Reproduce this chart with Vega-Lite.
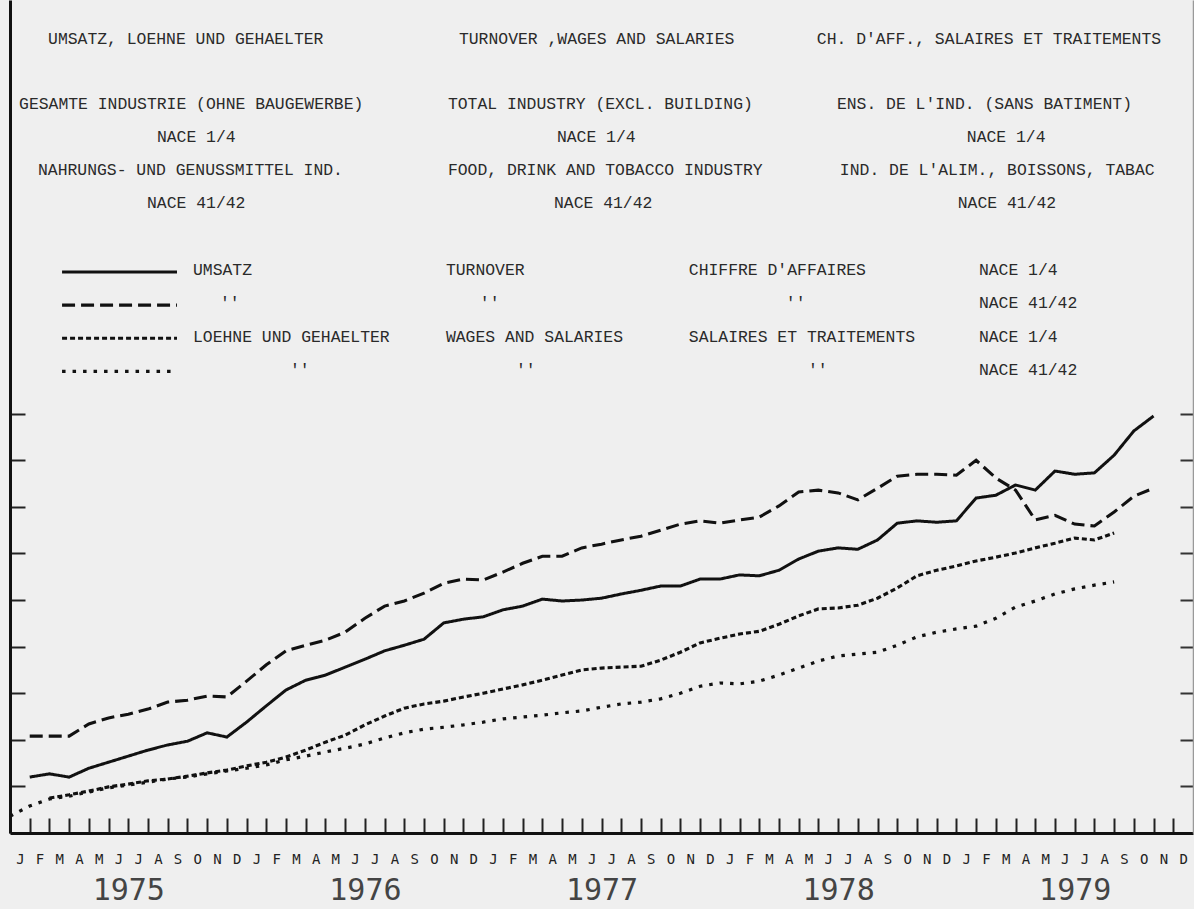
{
  "$schema": "https://vega.github.io/schema/vega-lite/v6.json",
  "width": 1183,
  "height": 833,
  "autosize": {"type": "none"},
  "padding": {"left": 10, "top": 0, "right": 1, "bottom": 76},
  "background": "#efefef",
  "config": {"view": {"stroke": null}, "axis": {"grid": false}},
  "datasets": {
    "series": [
      {"s":"U14","t":1,"v":12.0},{"s":"U14","t":2,"v":12.7},{"s":"U14","t":3,"v":12.0},{"s":"U14","t":4,"v":13.9},{"s":"U14","t":5,"v":15.2},{"s":"U14","t":6,"v":16.5},{"s":"U14","t":7,"v":17.8},{"s":"U14","t":8,"v":18.9},{"s":"U14","t":9,"v":19.7},{"s":"U14","t":10,"v":21.5},{"s":"U14","t":11,"v":20.6},{"s":"U14","t":12,"v":23.8},{"s":"U14","t":13,"v":27.3},{"s":"U14","t":14,"v":30.7},{"s":"U14","t":15,"v":32.8},{"s":"U14","t":16,"v":33.9},{"s":"U14","t":17,"v":35.6},{"s":"U14","t":18,"v":37.3},{"s":"U14","t":19,"v":39.1},{"s":"U14","t":20,"v":40.3},{"s":"U14","t":21,"v":41.6},{"s":"U14","t":22,"v":45.1},{"s":"U14","t":23,"v":45.9},{"s":"U14","t":24,"v":46.4},{"s":"U14","t":25,"v":47.9},{"s":"U14","t":26,"v":48.7},{"s":"U14","t":27,"v":50.2},{"s":"U14","t":28,"v":49.8},{"s":"U14","t":29,"v":50.0},{"s":"U14","t":30,"v":50.4},{"s":"U14","t":31,"v":51.3},{"s":"U14","t":32,"v":52.1},{"s":"U14","t":33,"v":53.0},{"s":"U14","t":34,"v":53.0},{"s":"U14","t":35,"v":54.5},{"s":"U14","t":36,"v":54.5},{"s":"U14","t":37,"v":55.4},{"s":"U14","t":38,"v":55.2},{"s":"U14","t":39,"v":56.4},{"s":"U14","t":40,"v":58.8},{"s":"U14","t":41,"v":60.5},{"s":"U14","t":42,"v":61.2},{"s":"U14","t":43,"v":60.9},{"s":"U14","t":44,"v":62.9},{"s":"U14","t":45,"v":66.5},{"s":"U14","t":46,"v":67.0},{"s":"U14","t":47,"v":66.7},{"s":"U14","t":48,"v":67.0},{"s":"U14","t":49,"v":71.9},{"s":"U14","t":50,"v":72.5},{"s":"U14","t":51,"v":74.7},{"s":"U14","t":52,"v":73.6},{"s":"U14","t":53,"v":77.7},{"s":"U14","t":54,"v":77.0},{"s":"U14","t":55,"v":77.3},{"s":"U14","t":56,"v":81.1},{"s":"U14","t":57,"v":86.3},{"s":"U14","t":58,"v":89.5},
      {"s":"U4142","t":1,"v":20.8},{"s":"U4142","t":2,"v":20.8},{"s":"U4142","t":3,"v":20.8},{"s":"U4142","t":4,"v":23.4},{"s":"U4142","t":5,"v":24.7},{"s":"U4142","t":6,"v":25.5},{"s":"U4142","t":7,"v":26.6},{"s":"U4142","t":8,"v":28.1},{"s":"U4142","t":9,"v":28.5},{"s":"U4142","t":10,"v":29.4},{"s":"U4142","t":11,"v":29.2},{"s":"U4142","t":12,"v":32.6},{"s":"U4142","t":13,"v":36.1},{"s":"U4142","t":14,"v":39.1},{"s":"U4142","t":15,"v":40.3},{"s":"U4142","t":16,"v":41.4},{"s":"U4142","t":17,"v":43.1},{"s":"U4142","t":18,"v":46.1},{"s":"U4142","t":19,"v":48.7},{"s":"U4142","t":20,"v":49.8},{"s":"U4142","t":21,"v":51.5},{"s":"U4142","t":22,"v":53.6},{"s":"U4142","t":23,"v":54.5},{"s":"U4142","t":24,"v":54.3},{"s":"U4142","t":25,"v":56.0},{"s":"U4142","t":26,"v":57.9},{"s":"U4142","t":27,"v":59.4},{"s":"U4142","t":28,"v":59.4},{"s":"U4142","t":29,"v":61.2},{"s":"U4142","t":30,"v":62.0},{"s":"U4142","t":31,"v":62.9},{"s":"U4142","t":32,"v":63.7},{"s":"U4142","t":33,"v":65.0},{"s":"U4142","t":34,"v":66.3},{"s":"U4142","t":35,"v":67.0},{"s":"U4142","t":36,"v":66.5},{"s":"U4142","t":37,"v":67.2},{"s":"U4142","t":38,"v":67.8},{"s":"U4142","t":39,"v":70.2},{"s":"U4142","t":40,"v":73.2},{"s":"U4142","t":41,"v":73.6},{"s":"U4142","t":42,"v":73.0},{"s":"U4142","t":43,"v":71.5},{"s":"U4142","t":44,"v":74.0},{"s":"U4142","t":45,"v":76.6},{"s":"U4142","t":46,"v":77.0},{"s":"U4142","t":47,"v":77.0},{"s":"U4142","t":48,"v":76.8},{"s":"U4142","t":49,"v":80.0},{"s":"U4142","t":50,"v":76.2},{"s":"U4142","t":51,"v":73.6},{"s":"U4142","t":52,"v":67.2},{"s":"U4142","t":53,"v":68.2},{"s":"U4142","t":54,"v":66.3},{"s":"U4142","t":55,"v":65.9},{"s":"U4142","t":56,"v":68.9},{"s":"U4142","t":57,"v":72.3},{"s":"U4142","t":58,"v":74.0},
      {"s":"L14","t":2,"v":7.5},{"s":"L14","t":3,"v":8.2},{"s":"L14","t":4,"v":9.0},{"s":"L14","t":5,"v":9.9},{"s":"L14","t":6,"v":10.5},{"s":"L14","t":7,"v":11.2},{"s":"L14","t":8,"v":11.6},{"s":"L14","t":9,"v":12.2},{"s":"L14","t":10,"v":12.9},{"s":"L14","t":11,"v":13.5},{"s":"L14","t":12,"v":14.4},{"s":"L14","t":13,"v":15.2},{"s":"L14","t":14,"v":16.3},{"s":"L14","t":15,"v":17.8},{"s":"L14","t":16,"v":19.5},{"s":"L14","t":17,"v":21.0},{"s":"L14","t":18,"v":23.2},{"s":"L14","t":19,"v":25.1},{"s":"L14","t":20,"v":26.8},{"s":"L14","t":21,"v":27.7},{"s":"L14","t":22,"v":28.3},{"s":"L14","t":23,"v":29.2},{"s":"L14","t":24,"v":30.0},{"s":"L14","t":25,"v":30.9},{"s":"L14","t":26,"v":31.8},{"s":"L14","t":27,"v":32.8},{"s":"L14","t":28,"v":33.9},{"s":"L14","t":29,"v":35.0},{"s":"L14","t":30,"v":35.4},{"s":"L14","t":31,"v":35.6},{"s":"L14","t":32,"v":35.8},{"s":"L14","t":33,"v":37.1},{"s":"L14","t":34,"v":38.8},{"s":"L14","t":35,"v":40.8},{"s":"L14","t":36,"v":41.8},{"s":"L14","t":37,"v":42.7},{"s":"L14","t":38,"v":43.3},{"s":"L14","t":39,"v":44.8},{"s":"L14","t":40,"v":46.6},{"s":"L14","t":41,"v":48.1},{"s":"L14","t":42,"v":48.3},{"s":"L14","t":43,"v":48.9},{"s":"L14","t":44,"v":50.4},{"s":"L14","t":45,"v":52.6},{"s":"L14","t":46,"v":55.2},{"s":"L14","t":47,"v":56.4},{"s":"L14","t":48,"v":57.3},{"s":"L14","t":49,"v":58.4},{"s":"L14","t":50,"v":59.2},{"s":"L14","t":51,"v":60.1},{"s":"L14","t":52,"v":61.2},{"s":"L14","t":53,"v":62.2},{"s":"L14","t":54,"v":63.3},{"s":"L14","t":55,"v":62.9},{"s":"L14","t":56,"v":64.4},
      {"s":"L4142","t":0,"v":3.6},{"s":"L4142","t":1,"v":5.8},{"s":"L4142","t":2,"v":7.3},{"s":"L4142","t":3,"v":7.9},{"s":"L4142","t":4,"v":8.8},{"s":"L4142","t":5,"v":9.7},{"s":"L4142","t":6,"v":10.3},{"s":"L4142","t":7,"v":10.9},{"s":"L4142","t":8,"v":11.6},{"s":"L4142","t":9,"v":12.0},{"s":"L4142","t":10,"v":12.7},{"s":"L4142","t":11,"v":13.3},{"s":"L4142","t":12,"v":13.9},{"s":"L4142","t":13,"v":14.6},{"s":"L4142","t":14,"v":15.7},{"s":"L4142","t":15,"v":16.5},{"s":"L4142","t":16,"v":17.4},{"s":"L4142","t":17,"v":18.2},{"s":"L4142","t":18,"v":19.1},{"s":"L4142","t":19,"v":20.4},{"s":"L4142","t":20,"v":21.5},{"s":"L4142","t":21,"v":22.3},{"s":"L4142","t":22,"v":22.7},{"s":"L4142","t":23,"v":23.2},{"s":"L4142","t":24,"v":23.8},{"s":"L4142","t":25,"v":24.5},{"s":"L4142","t":26,"v":24.9},{"s":"L4142","t":27,"v":25.3},{"s":"L4142","t":28,"v":25.8},{"s":"L4142","t":29,"v":26.2},{"s":"L4142","t":30,"v":27.0},{"s":"L4142","t":31,"v":27.7},{"s":"L4142","t":32,"v":28.1},{"s":"L4142","t":33,"v":28.8},{"s":"L4142","t":34,"v":30.0},{"s":"L4142","t":35,"v":31.5},{"s":"L4142","t":36,"v":32.2},{"s":"L4142","t":37,"v":32.0},{"s":"L4142","t":38,"v":32.6},{"s":"L4142","t":39,"v":33.9},{"s":"L4142","t":40,"v":35.4},{"s":"L4142","t":41,"v":36.9},{"s":"L4142","t":42,"v":38.0},{"s":"L4142","t":43,"v":38.4},{"s":"L4142","t":44,"v":38.8},{"s":"L4142","t":45,"v":40.3},{"s":"L4142","t":46,"v":42.1},{"s":"L4142","t":47,"v":43.1},{"s":"L4142","t":48,"v":43.8},{"s":"L4142","t":49,"v":44.4},{"s":"L4142","t":50,"v":46.1},{"s":"L4142","t":51,"v":48.5},{"s":"L4142","t":52,"v":49.8},{"s":"L4142","t":53,"v":51.3},{"s":"L4142","t":54,"v":52.4},{"s":"L4142","t":55,"v":53.2},{"s":"L4142","t":56,"v":53.9}
    ],
    "header": [
      {"t":1.93,"v":170.4,"txt":"UMSATZ, LOEHNE UND GEHAELTER"},
      {"t":22.77,"v":170.4,"txt":"TURNOVER ,WAGES AND SALARIES"},
      {"t":40.92,"v":170.4,"txt":"CH. D'AFF., SALAIRES ET TRAITEMENTS"},
      {"t":0.46,"v":156.4,"txt":"GESAMTE INDUSTRIE (OHNE BAUGEWERBE)"},
      {"t":22.21,"v":156.4,"txt":"TOTAL INDUSTRY (EXCL. BUILDING)"},
      {"t":41.94,"v":156.4,"txt":"ENS. DE L'IND. (SANS BATIMENT)"},
      {"t":7.45,"v":149.4,"txt":"NACE 1/4"},
      {"t":27.74,"v":149.4,"txt":"NACE 1/4"},
      {"t":48.53,"v":149.4,"txt":"NACE 1/4"},
      {"t":1.42,"v":142.3,"txt":"NAHRUNGS- UND GENUSSMITTEL IND."},
      {"t":22.21,"v":142.3,"txt":"FOOD, DRINK AND TOBACCO INDUSTRY"},
      {"t":42.09,"v":142.3,"txt":"IND. DE L'ALIM., BOISSONS, TABAC"},
      {"t":6.95,"v":135.2,"txt":"NACE 41/42"},
      {"t":27.59,"v":135.2,"txt":"NACE 41/42"},
      {"t":48.07,"v":135.2,"txt":"NACE 41/42"},
      {"t":9.28,"v":120.8,"txt":"UMSATZ"},
      {"t":22.11,"v":120.8,"txt":"TURNOVER"},
      {"t":34.43,"v":120.8,"txt":"CHIFFRE D'AFFAIRES"},
      {"t":49.14,"v":120.8,"txt":"NACE 1/4"},
      {"t":10.65,"v":113.7,"txt":"''"},
      {"t":23.83,"v":113.7,"txt":"''"},
      {"t":39.35,"v":113.7,"txt":"''"},
      {"t":49.14,"v":113.7,"txt":"NACE 41/42"},
      {"t":9.28,"v":106.4,"txt":"LOEHNE UND GEHAELTER"},
      {"t":22.11,"v":106.4,"txt":"WAGES AND SALARIES"},
      {"t":34.43,"v":106.4,"txt":"SALAIRES ET TRAITEMENTS"},
      {"t":49.14,"v":106.4,"txt":"NACE 1/4"},
      {"t":14.2,"v":99.4,"txt":"''"},
      {"t":25.66,"v":99.4,"txt":"''"},
      {"t":40.47,"v":99.4,"txt":"''"},
      {"t":49.14,"v":99.4,"txt":"NACE 41/42"}
    ],
    "legend": [
      {"s":"U14","t":2.64,"v":120.4},{"s":"U14","t":8.47,"v":120.4},
      {"s":"U4142","t":2.64,"v":113.3},{"s":"U4142","t":8.47,"v":113.3},
      {"s":"L14","t":2.64,"v":106.2},{"s":"L14","t":8.47,"v":106.2},
      {"s":"L4142","t":2.64,"v":99.1},{"s":"L4142","t":8.47,"v":99.1}
    ]
  },
  "data": {"name": "series"},
  "layer": [
    {
      "mark": {"type": "line", "color": "#111", "strokeCap": "butt"},
      "encoding": {
        "x": {"field": "t", "type": "quantitative",
          "scale": {"domain": [0, 60], "nice": false, "zero": false},
          "axis": {"orient": "bottom", "title": null,
            "values": [0,1,2,3,4,5,6,7,8,9,10,11,12,13,14,15,16,17,18,19,20,21,22,23,24,25,26,27,28,29,30,31,32,33,34,35,36,37,38,39,40,41,42,43,44,45,46,47,48,49,50,51,52,53,54,55,56,57,58,59],
            "labelExpr": "['J','F','M','A','M','J','J','A','S','O','N','D'][datum.value % 12]",
            "labelOffset": 9.86, "labelFlush": false, "labelOverlap": false, "labelBound": false,
            "tickSize": -15, "tickWidth": 2, "tickColor": "#222",
            "domainColor": "#111", "domainWidth": 3,
            "labelFont": "DejaVu Sans Mono", "labelFontSize": 14, "labelColor": "#222", "labelPadding": 34}},
        "y": {"field": "v", "type": "quantitative",
          "scale": {"domain": [0, 178.8], "nice": false, "zero": false},
          "axis": {"orient": "left", "title": null, "values": [10,20,30,40,50,60,70,80,90],
            "labels": false, "tickSize": -15, "tickWidth": 2, "tickColor": "#222",
            "domainColor": "#111", "domainWidth": 3}},
        "strokeDash": {"field": "s", "type": "nominal",
          "scale": {"domain": ["U14","U4142","L14","L4142"], "range": [[1,0],[13,6],[5,3],[3.5,7]]},
          "legend": null},
        "strokeWidth": {"field": "s", "type": "nominal",
          "scale": {"domain": ["U14","U4142","L14","L4142"], "range": [3, 3.2, 3.6, 3.6]},
          "legend": null},
        "detail": {"field": "s"}
      }
    },
    {
      "mark": {"type": "point", "opacity": 0},
      "encoding": {
        "x": {"field": "t", "type": "quantitative",
          "scale": {"domain": [0, 60], "nice": false, "zero": false},
          "axis": {"orient": "bottom", "title": null, "values": [6,18,30,42,54],
            "labelExpr": "'' + (1975 + floor(datum.value / 12))",
            "ticks": false, "domain": false, "labelFlush": false, "labelOverlap": false,
            "labelFont": "DejaVu Sans Mono", "labelFontSize": 30, "labelColor": "#444", "labelPadding": 42}},
        "y": {"field": "v", "type": "quantitative",
          "scale": {"domain": [0, 178.8], "nice": false, "zero": false},
          "axis": {"orient": "right", "title": null, "values": [10,20,30,40,50,60,70,80,90],
            "labels": false, "tickSize": -13, "tickWidth": 2, "tickColor": "#333",
            "domainColor": "#999", "domainWidth": 1.5}}
      }
    },
    {
      "data": {"name": "header"},
      "mark": {"type": "text", "align": "left", "baseline": "middle", "font": "Liberation Mono", "fontSize": 16.4, "color": "#2a2a2a"},
      "encoding": {
        "x": {"field": "t", "type": "quantitative", "scale": {"domain": [0, 60], "nice": false, "zero": false}, "axis": null},
        "y": {"field": "v", "type": "quantitative", "scale": {"domain": [0, 178.8], "nice": false, "zero": false}, "axis": null},
        "text": {"field": "txt"}
      }
    },
    {
      "data": {"name": "legend"},
      "mark": {"type": "line", "color": "#111", "strokeCap": "butt"},
      "encoding": {
        "x": {"field": "t", "type": "quantitative", "scale": {"domain": [0, 60], "nice": false, "zero": false}, "axis": null},
        "y": {"field": "v", "type": "quantitative", "scale": {"domain": [0, 178.8], "nice": false, "zero": false}, "axis": null},
        "strokeDash": {"field": "s", "type": "nominal",
          "scale": {"domain": ["U14","U4142","L14","L4142"], "range": [[1,0],[13,6],[5,3],[3.5,7]]},
          "legend": null},
        "strokeWidth": {"field": "s", "type": "nominal",
          "scale": {"domain": ["U14","U4142","L14","L4142"], "range": [3, 3.2, 3.6, 3.6]},
          "legend": null},
        "detail": {"field": "s"}
      }
    }
  ],
  "resolve": {"axis": {"x": "independent", "y": "independent"}}
}
